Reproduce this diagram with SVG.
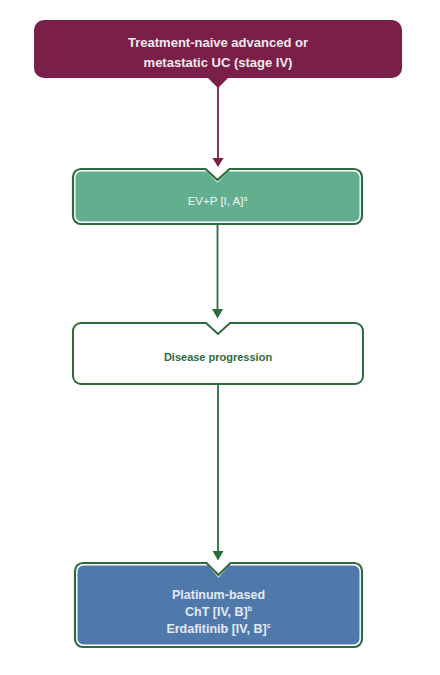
<svg xmlns="http://www.w3.org/2000/svg" width="440" height="675" viewBox="0 0 440 675">
<defs>
<style>
text{font-family:"Liberation Sans",Arial,sans-serif;text-anchor:middle}
.t1{font-size:13px;font-weight:bold;fill:#f3e8ee}
.t2{font-size:11.5px;fill:#eef7f2}
.t3{font-size:11px;font-weight:bold;fill:#2e6b3c}
.t4{font-size:12.5px;font-weight:bold;fill:#e3eaf4}
.outer{fill:#ffffff;stroke:#2e6b3c;stroke-width:2.2}
.conn{fill:none;stroke-width:1.8}
.sup{font-size:7px}
</style>
</defs>
<rect width="440" height="675" fill="#ffffff"/>
<g id="connectors">
<path class="conn" d="M218,86 V158" stroke="#7a1f47"/>
<path d="M212.5,158 L223.5,158 L218,167 Z" fill="#7a1f47"/>
<path class="conn" d="M217.5,224 V309" stroke="#2e6b3c"/>
<path d="M212,309 L223,309 L217.5,318.5 Z" fill="#2e6b3c"/>
<path class="conn" d="M218,384 V551" stroke="#2e6b3c"/>
<path d="M212.5,551 L223.5,551 L218,560.5 Z" fill="#2e6b3c"/>
</g>
<g id="start">
<path d="M44,20 H392 A10,10 0 0 1 402,30 V68 A10,10 0 0 1 392,78 H228 L218,88 L208,78 H44 A10,10 0 0 1 34,68 V30 A10,10 0 0 1 44,20 Z" fill="#7a1f47"/>
<text class="t1" x="218" y="47">Treatment-naive advanced or</text>
<text class="t1" x="218" y="67">metastatic UC (stage IV)</text>
</g>
<g id="evp">
<path class="outer" d="M81,169 H205.5 L217.5,180 L229.5,169 H354 A8,8 0 0 1 362,177 V216 A8,8 0 0 1 354,224 H81 A8,8 0 0 1 73,216 V177 A8,8 0 0 1 81,169 Z"/>
<path d="M81.5,171.5 H207 L217.5,182.8 L228,171.5 H353.5 A6,6 0 0 1 359.5,177.5 V215.5 A6,6 0 0 1 353.5,221.5 H81.5 A6,6 0 0 1 75.5,215.5 V177.5 A6,6 0 0 1 81.5,171.5 Z" fill="#64ae90"/>
<text class="t2" x="217.5" y="205">EV+P [I, A]<tspan class="sup" dy="-4">a</tspan></text>
</g>
<g id="progression">
<path d="M81,323 H206 L218,334 L230,323 H355 A8,8 0 0 1 363,331 V376 A8,8 0 0 1 355,384 H81 A8,8 0 0 1 73,376 V331 A8,8 0 0 1 81,323 Z" fill="#ffffff" stroke="#2e6b3c" stroke-width="2"/>
<text class="t3" x="218" y="361">Disease progression</text>
</g>
<g id="second-line">
<path class="outer" d="M83,563 H206.5 L218.5,575 L230.5,563 H354 A8,8 0 0 1 362,571 V639 A8,8 0 0 1 354,647 H83 A8,8 0 0 1 75,639 V571 A8,8 0 0 1 83,563 Z"/>
<path d="M83.5,565.5 H208 L218.5,577.8 L229,565.5 H353.5 A6,6 0 0 1 359.5,571.5 V638.5 A6,6 0 0 1 353.5,644.5 H83.5 A6,6 0 0 1 77.5,638.5 V571.5 A6,6 0 0 1 83.5,565.5 Z" fill="#5079ab"/>
<text class="t4" x="218.5" y="599">Platinum-based</text>
<text class="t4" x="218.5" y="616">ChT [IV, B]<tspan class="sup" dy="-5">b</tspan></text>
<text class="t4" x="218.5" y="633">Erdafitinib [IV, B]<tspan class="sup" dy="-5">c</tspan></text>
</g>
</svg>
